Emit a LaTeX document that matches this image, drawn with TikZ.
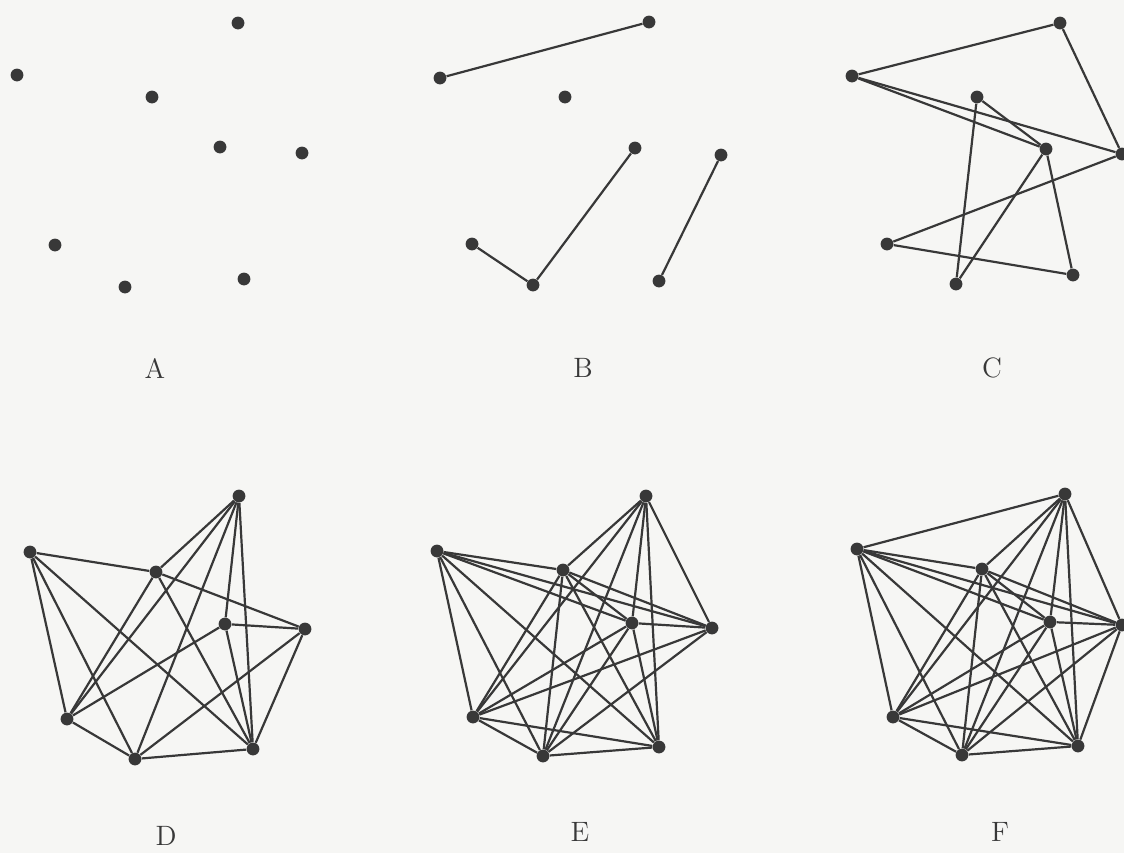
\documentclass[tikz,border=0pt]{standalone}
\usepackage{tikz}
\definecolor{encre}{HTML}{383838}
\definecolor{papier}{HTML}{F6F6F4}

\begin{document}
\begin{tikzpicture}[
  x=0.5pt, y=-0.5pt,
  sommet/.style={circle, fill=encre, inner sep=0pt, minimum size=6.4pt},
  arete/.style={draw=encre, line width=1.1pt},
  lettre/.style={font=\fontsize{14}{16}\selectfont, text=encre}
]
\fill[papier] (0,0) rectangle (1124,853);
\useasboundingbox (0,0) rectangle (1124,853);

% --- A : sommets seuls ---
\foreach \n/\x/\y in {1/238/23, 2/17/75, 3/152/97, 4/220/147,
                      5/302/153, 6/55/245, 7/125/287, 8/244/279}
  \node[sommet] (a\n) at (\x,\y) {};
\node[lettre] (lA) at (155,368) {A};

% --- B ---
\foreach \n/\x/\y in {1/649/22, 2/440/78, 3/565/97, 4/635/148,
                      5/721/155, 6/472/244, 7/533/285, 8/659/281}
  \node[sommet] (b\n) at (\x,\y) {};
\foreach \u/\v in {1/2, 4/7, 6/7, 5/8}
  \draw[arete] (b\u) -- (b\v);
\node[lettre] (lB) at (583,368) {B};

% --- C ---
\foreach \n/\x/\y in {1/1060/23, 2/852/76, 3/977/97, 4/1046/149,
                      5/1122/154, 6/887/244, 7/956/284, 8/1073/275}
  \node[sommet] (c\n) at (\x,\y) {};
\foreach \u/\v in {1/2, 1/5, 2/5, 2/4, 3/4, 3/7, 4/7, 4/8, 5/6, 6/8}
  \draw[arete] (c\u) -- (c\v);
\node[lettre] (lC) at (992,368) {C};

% --- D ---
\foreach \n/\x/\y in {1/239/496, 2/30/552, 3/156/572, 4/225/624,
                      5/305/629, 6/67/719, 7/135/759, 8/253/749}
  \node[sommet] (d\n) at (\x,\y) {};
\foreach \u/\v in {1/3, 1/4, 1/6, 1/7, 1/8, 2/3, 2/6, 2/7, 2/8, 3/5,
                   3/6, 3/8, 4/5, 4/6, 4/8, 5/7, 5/8, 6/7, 7/8}
  \draw[arete] (d\u) -- (d\v);
\node[lettre] (lD) at (166,836) {D};

% --- E ---
\foreach \n/\x/\y in {1/646/496, 2/437/551, 3/563/570, 4/632/623,
                      5/712/628, 6/473/717, 7/543/756, 8/659/747}
  \node[sommet] (e\n) at (\x,\y) {};
\foreach \u/\v in {1/3, 1/4, 1/5, 1/6, 1/7, 1/8, 2/3, 2/4, 2/5, 2/6,
                   2/7, 2/8, 3/4, 3/5, 3/6, 3/7, 3/8, 4/5, 4/6, 4/7,
                   4/8, 5/6, 5/7, 6/7, 6/8, 7/8}
  \draw[arete] (e\u) -- (e\v);
\node[lettre] (lE) at (580,832) {E};

% --- F : graphe complet ---
\foreach \n/\x/\y in {1/1065/494, 2/857/549, 3/982/569, 4/1050/622,
                      5/1122/625, 6/893/717, 7/962/755, 8/1078/746}
  \node[sommet] (f\n) at (\x,\y) {};
\foreach \u in {1,...,7} {
  \pgfmathtruncatemacro\suiv{\u+1}
  \foreach \v in {\suiv,...,8}
    \draw[arete] (f\u) -- (f\v);
}
\node[lettre] (lF) at (1000,832) {F};

\end{tikzpicture}
\end{document}
